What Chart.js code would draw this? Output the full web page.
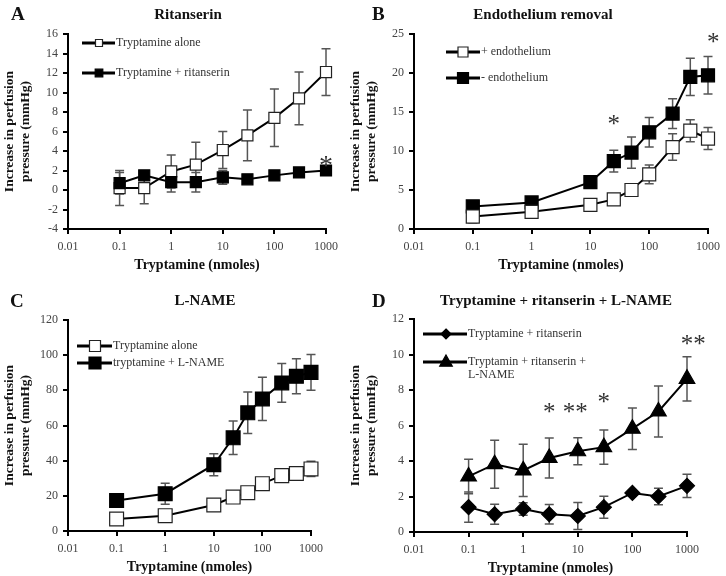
<!DOCTYPE html>
<html>
<head>
<meta charset="utf-8">
<script src="https://cdn.jsdelivr.net/npm/chart.js@4"></script>
<style>
  body { margin: 0; background: #fff; }
  #page { position: relative; width: 726px; height: 576px; overflow: hidden; background: #fff; font-family: 'Liberation Serif', 'Times New Roman', serif; color: #111; }
  canvas { position: absolute; left: 0; top: 0; }
  .letter { position: absolute; font-weight: bold; font-size: 19px; line-height: 19px; }
  .title { position: absolute; font-weight: bold; font-size: 15px; line-height: 15px; white-space: nowrap; transform: translateX(-50%); }
</style>
</head>
<body>
<div id="page">
  <canvas id="chartA" width="726" height="576"></canvas>
  <canvas id="chartB" width="726" height="576"></canvas>
  <canvas id="chartC" width="726" height="576"></canvas>
  <canvas id="chartD" width="726" height="576"></canvas>
  <div class="letter" style="left:11px;top:4px">A</div>
  <div class="letter" style="left:372px;top:4px">B</div>
  <div class="letter" style="left:10px;top:291px">C</div>
  <div class="letter" style="left:372px;top:291px">D</div>
  <div class="title" style="left:188px;top:7px">Ritanserin</div>
  <div class="title" style="left:543px;top:7px">Endothelium removal</div>
  <div class="title" style="left:205px;top:293px">L-NAME</div>
  <div class="title" style="left:556px;top:293px">Tryptamine + ritanserin + L-NAME</div>
</div>
<script>
const SERIF = "'Liberation Serif', 'Times New Roman', serif";

// shared x axis (log, nmoles)
const xTickValues = [0.01, 0.1, 1, 10, 100, 1000];
const xTickLabels = ['0.01', '0.1', '1', '10', '100', '1000'];

// Panel A - Ritanserin
const xA = [0.1, 0.3, 1, 3, 10, 30, 100, 300, 1000];
const aloneA = [0.2, 0.2, 1.9, 2.6, 4.1, 5.6, 7.4, 9.4, 12.1];
const aloneAErr = [1.8, 1.6, 1.7, 2.3, 1.9, 2.6, 2.95, 2.7, 2.4];
const ritA = [0.7, 1.5, 0.8, 0.8, 1.3, 1.1, 1.5, 1.8, 2.0];
const ritAErr = [1.1, 0.3, 1.0, 1.0, 0.7, 0.3, 0.3, 0.3, 0.3];
const starsA = [{x: 1000, y: 2.9, text: '*'}];

// Panel B - Endothelium removal
const xB = [0.1, 1, 10, 25, 50, 100, 250, 500, 1000];
const withEndoB = [1.6, 2.2, 3.1, 3.8, 5.0, 7.0, 10.5, 12.6, 11.6];
const withEndoBErr = [0.8, 0.3, 0.3, 0.4, 0.8, 1.2, 1.7, 1.4, 1.4];
const noEndoB = [2.9, 3.4, 6.0, 8.7, 9.8, 12.4, 14.8, 19.5, 19.7];
const noEndoBErr = [0.3, 0.3, 0.4, 1.4, 2.0, 1.9, 1.9, 2.4, 2.4];
const starsB = [{x: 25, y: 14.0, text: '*'}, {x: 1230, y: 24.5, text: '*'}];

// Panel C - L-NAME
const xC = [0.1, 1, 10, 25, 50, 100, 250, 500, 1000];
const aloneC = [6.8, 8.7, 14.8, 19.3, 21.8, 26.9, 31.5, 32.7, 35.3];
const aloneCErr = [1.5, 1.5, 2, 2, 2, 2, 2, 2, 4.3];
const lnameC = [17.3, 21.2, 37.7, 53.0, 67.2, 75.1, 84.2, 88.0, 90.2];
const lnameCErr = [2, 6.0, 6.3, 9.5, 11.8, 12.3, 11.0, 10.0, 10.2];

// Panel D - Tryptamine + ritanserin + L-NAME
const xD = [0.1, 0.3, 1, 3, 10, 30, 100, 300, 1000];
const ritD = [1.4, 1.0, 1.3, 1.0, 0.9, 1.4, 2.2, 2.0, 2.6];
const ritDErr = [0.85, 0.57, 0.35, 0.55, 0.76, 0.62, 0.1, 0.47, 0.65];
const lnameD = [3.13, 3.82, 3.47, 4.17, 4.55, 4.78, 5.82, 6.79, 8.63];
const lnameDErr = [0.97, 1.35, 1.47, 1.13, 0.76, 0.97, 1.17, 1.44, 1.25];
const starsD = [
  {x: 3, y: 7.0, text: '*'},
  {x: 9, y: 7.0, text: '**'},
  {x: 30, y: 7.57, text: '*'},
  {x: 1300, y: 10.83, text: '**'}
];

const pts = (xs, ys) => xs.map((x, i) => ({x: x, y: ys[i]}));

// draws SEM whiskers behind the series
const errorBars = {
  id: 'errorBars',
  beforeDatasetsDraw(chart) {
    const {ctx, scales: {x, y}} = chart;
    ctx.save();
    ctx.strokeStyle = '#555';
    ctx.lineWidth = 1.5;
    chart.data.datasets.forEach(ds => {
      if (!ds.errors) return;
      ds.data.forEach((p, i) => {
        const e = ds.errors[i];
        const px = x.getPixelForValue(p.x);
        const top = y.getPixelForValue(p.y + e);
        const bot = y.getPixelForValue(p.y - e);
        ctx.beginPath();
        ctx.moveTo(px, top); ctx.lineTo(px, bot);
        ctx.moveTo(px - 4.5, top); ctx.lineTo(px + 4.5, top);
        ctx.moveTo(px - 4.5, bot); ctx.lineTo(px + 4.5, bot);
        ctx.stroke();
      });
    });
    ctx.restore();
  }
};

function marker(ctx, style, x, y, r, fill, stroke, bw) {
  ctx.beginPath();
  if (style === 'rect') {
    ctx.rect(x - r, y - r, 2 * r, 2 * r);
  } else if (style === 'rectRot') {
    ctx.moveTo(x, y - r); ctx.lineTo(x + r, y); ctx.lineTo(x, y + r); ctx.lineTo(x - r, y);
    ctx.closePath();
  } else {
    ctx.moveTo(x, y - r); ctx.lineTo(x + r * 0.9, y + r * 0.6); ctx.lineTo(x - r * 0.9, y + r * 0.6);
    ctx.closePath();
  }
  ctx.fillStyle = fill;
  ctx.fill();
  ctx.lineWidth = bw;
  ctx.strokeStyle = stroke;
  ctx.stroke();
}

// legend drawn inside the plot, line-marker-line + text
const legendBox = {
  id: 'legendBox',
  afterDraw(chart, args, opts) {
    const ctx = chart.ctx;
    chart.data.datasets.forEach((ds, i) => {
      const y = opts.ys[i];
      ctx.save();
      ctx.strokeStyle = '#000';
      ctx.lineWidth = 3;
      ctx.beginPath();
      ctx.moveTo(opts.x1, y);
      ctx.lineTo(opts.x2, y);
      ctx.stroke();
      marker(ctx, ds.pointStyle, opts.mx, y, opts.r[i], ds.pointBackgroundColor, ds.pointBorderColor, 1.2);
      ctx.fillStyle = '#333';
      ctx.font = '12px ' + SERIF;
      ctx.textBaseline = 'middle';
      String(ds.label).split('\n').forEach((t, k) => ctx.fillText(t, opts.x2 + 1, y + k * 13));
      ctx.restore();
    });
  }
};

// significance asterisks, centred on their data position
const stars = {
  id: 'stars',
  afterDraw(chart, args, opts) {
    const {ctx, scales: {x, y}} = chart;
    ctx.save();
    ctx.fillStyle = '#333';
    ctx.font = opts.size + 'px ' + SERIF;
    ctx.textAlign = 'center';
    ctx.textBaseline = 'alphabetic';
    opts.list.forEach(s => {
      const m = ctx.measureText(s.text);
      const px = x.getPixelForValue(s.x);
      const py = y.getPixelForValue(s.y);
      ctx.fillText(s.text, px, py - (m.actualBoundingBoxDescent - m.actualBoundingBoxAscent) / 2);
    });
    ctx.restore();
  }
};

function panel(id, area, yMin, yMax, yStep, datasets, legend, starList, starSize) {
  return new Chart(document.getElementById(id), {
    type: 'line',
    data: {datasets: datasets},
    plugins: [errorBars, legendBox, stars],
    options: {
      responsive: false,
      animation: false,
      events: [],
      layout: {padding: {left: area.left - 68, top: area.top, right: 726 - area.right, bottom: 576 - area.bottom - 45}},
      plugins: {
        legend: {display: false},
        tooltip: {enabled: false},
        legendBox: legend,
        stars: {list: starList, size: starSize}
      },
      scales: {
        x: {
          type: 'logarithmic',
          min: 0.01,
          max: 1000,
          afterBuildTicks: s => { s.ticks = xTickValues.map(v => ({value: v})); },
          afterFit: s => { s.height = 45; },
          grid: {display: true, drawOnChartArea: false, drawTicks: true, tickLength: 5, color: '#000', lineWidth: 2},
          border: {display: true, color: '#000', width: 2},
          ticks: {autoSkip: false, maxRotation: 0, padding: 6, color: '#444',
                  font: {family: SERIF, size: 12}, callback: (v, i) => xTickLabels[i]},
          title: {display: true, text: 'Tryptamine (nmoles)', color: '#111',
                  font: {family: SERIF, size: 14, weight: 'bold', lineHeight: '16px'},
                  padding: {top: 0, bottom: 1}}
        },
        y: {
          min: yMin,
          max: yMax,
          afterFit: s => { s.width = 68; },
          grid: {display: true, drawOnChartArea: false, drawTicks: true, tickLength: 5, color: '#000', lineWidth: 2},
          border: {display: true, color: '#000', width: 2},
          ticks: {stepSize: yStep, padding: 5, color: '#444', font: {family: SERIF, size: 12}},
          title: {display: true, text: ['Increase in perfusion', 'pressure (mmHg)'], color: '#111',
                  font: {family: SERIF, size: 13.5, weight: 'bold', lineHeight: '16px'},
                  padding: {top: 2, bottom: 0}}
        }
      }
    }
  });
}

function series(label, xs, ys, errs, style, radius, filled, order) {
  return {
    label: label,
    data: pts(xs, ys),
    errors: errs,
    order: order,
    clip: false,
    borderColor: '#000',
    borderWidth: 2,
    fill: false,
    pointStyle: style,
    pointRadius: radius,
    pointBackgroundColor: filled ? '#000' : '#fff',
    pointBorderColor: filled ? '#000' : '#222',
    pointBorderWidth: 1.2
  };
}

panel('chartA', {left: 68, right: 326, top: 34, bottom: 229}, -4, 16, 2, [
  series('Tryptamine alone', xA, aloneA, aloneAErr, 'rect', 7.8, false, 1),
  series('Tryptamine + ritanserin', xA, ritA, ritAErr, 'rect', 7.8, true, 0)
], {x1: 82, x2: 115, mx: 99, ys: [43, 73], r: [3.5, 3.8]}, starsA, 28);

panel('chartB', {left: 414, right: 711, top: 34, bottom: 229}, 0, 25, 5, [
  series('+ endothelium', xB, withEndoB, withEndoBErr, 'rect', 9.2, false, 0),
  series('- endothelium', xB, noEndoB, noEndoBErr, 'rect', 9.2, true, 1)
], {x1: 446, x2: 480, mx: 463, ys: [52, 78], r: [5, 5.5]}, starsB, 25);

panel('chartC', {left: 68, right: 311, top: 320, bottom: 531}, 0, 120, 20, [
  series('Tryptamine alone', xC, aloneC, aloneCErr, 'rect', 9.8, false, 0),
  series('tryptamine + L-NAME', xC, lnameC, lnameCErr, 'rect', 9.8, true, 1)
], {x1: 77, x2: 112, mx: 95, ys: [346, 363], r: [5.5, 6]}, [], 25);

panel('chartD', {left: 414, right: 687, top: 319, bottom: 532}, 0, 12, 2, [
  series('Tryptamine + ritanserin', xD, ritD, ritDErr, 'rectRot', 7.5, true, 0),
  series('Tryptamin + ritanserin +\nL-NAME', xD, lnameD, lnameDErr, 'triangle', 9, true, 1)
], {x1: 423, x2: 467, mx: 446, ys: [334, 362], r: [5, 7]}, starsD, 25);
</script>
</body>
</html>
